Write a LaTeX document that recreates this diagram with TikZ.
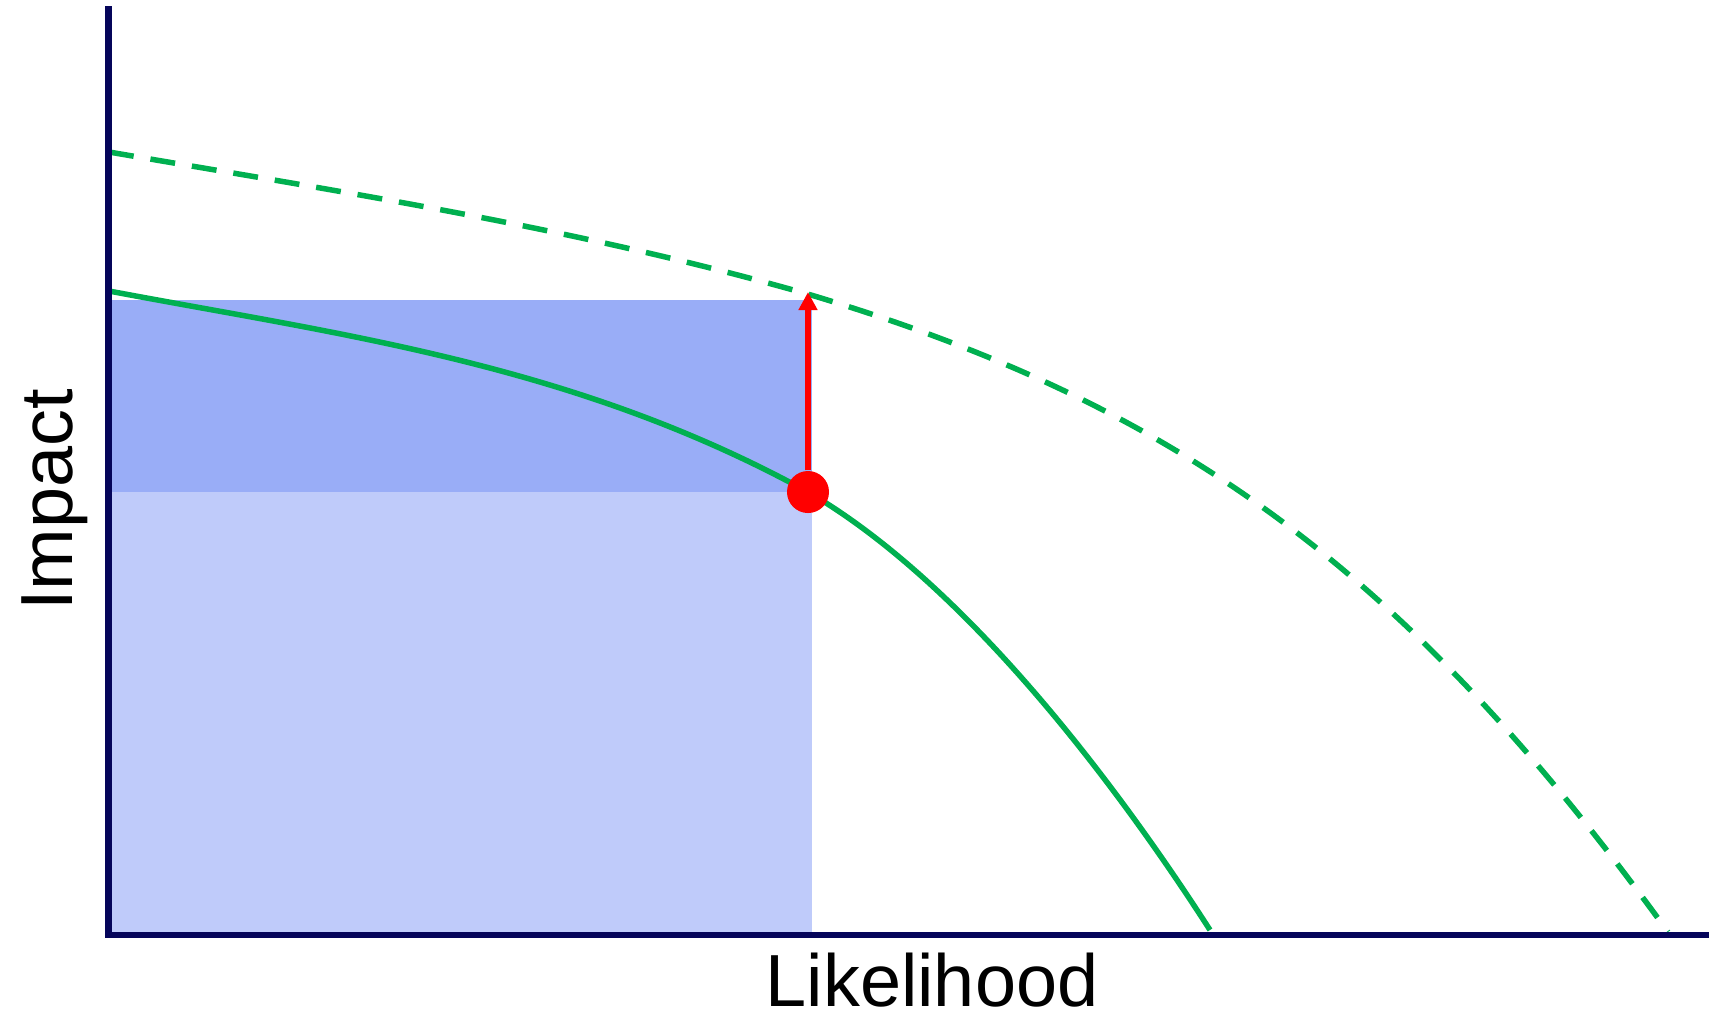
\documentclass[tikz,border=0pt]{standalone}
\usepackage{fontspec}
\setmainfont{Liberation Sans}
\usetikzlibrary{arrows.meta, positioning}
\definecolor{axisnavy}{RGB}{5, 5, 90}
\definecolor{riskgreen}{RGB}{0, 176, 80}
\definecolor{zonedark}{RGB}{153, 173, 247}
\definecolor{zonelight}{RGB}{191, 203, 250}

\begin{document}
\begin{tikzpicture}[
    x=0.01cm, y=-0.01cm,
    axisline/.style={line width=0.06cm, axisnavy},
    riskcurve/.style={line width=0.055cm, riskgreen},
    dashedcurve/.style={riskcurve, dash pattern=on 0.25cm off 0.17cm},
    arrow/.style={-{Triangle[width=0.18cm, length=0.18cm]}, line width=0.055cm, red},
    riskdot/.style={circle, fill=red, inner sep=0pt, minimum size=0.42cm},
    axislabel/.style={font=\fontsize{21}{25}\selectfont, inner sep=0pt}
]
    \useasboundingbox (0,0) rectangle (1709,1014);

    % Frame points
    \coordinate (origin) at (108.5,935);
    \coordinate (ytop) at (108.5,6);
    \coordinate (xend) at (1709,935);

    % Risk zones
    \fill[zonelight] (108.5,492) rectangle (812,935);
    \fill[zonedark] (108.5,300) rectangle (812,492);

    % Curves
    \coordinate (dstart) at (109,152);
    \coordinate (dmid) at (811,295);
    \coordinate (dend) at (1668,932);
    \draw[dashedcurve] (dstart) .. controls (343,192) and (577,228) .. (dmid)
        .. controls (1181,406) and (1408,573) .. (dend);
    \coordinate (sstart) at (109,291);
    \coordinate (send) at (1210,930);
    \draw[riskcurve] (sstart) .. controls (342,335) and (575,364) .. (808,492)
        .. controls (968,585) and (1120,790) .. (send);

    % Current point and shift
    \node[riskdot] (point) at (808,492) {};
    \coordinate (target) at (808,292);
    \draw[arrow] (point) -- (target);

    % Axes
    \draw[axisline] (ytop) -- (origin) -- (xend);
    \node[axislabel, anchor=base] (likelihood) at (932,1006) {Likelihood};
    \node[axislabel, anchor=base, rotate=90] (impact) at (72,500) {Impact};

\end{tikzpicture}
\end{document}
